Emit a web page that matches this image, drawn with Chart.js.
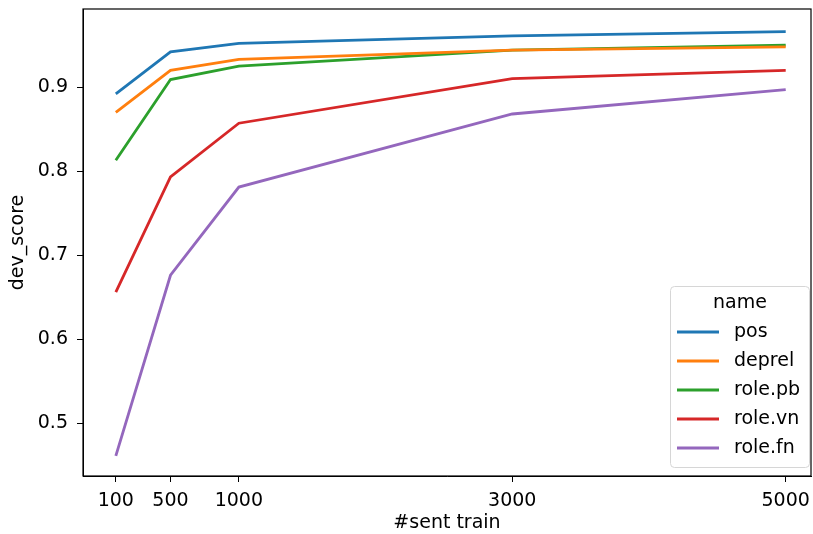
<!DOCTYPE html>
<html>
<head>
<meta charset="utf-8">
<script src="https://cdn.jsdelivr.net/npm/chart.js@4"></script>
<style>
  html, body { margin: 0; padding: 0; background: #fff; }
  #wrap { width: 813px; height: 534px; }
</style>
</head>
<body>
<div id="wrap"><canvas id="devChart" width="813" height="534"></canvas></div>
<script>
// Data
const sentTrain = [100, 500, 1000, 3000, 5000];
const xTicks = [100, 500, 1000, 3000, 5000];
const yTicks = [0.5, 0.6, 0.7, 0.8, 0.9];
const names = ['pos', 'deprel', 'role.pb', 'role.vn', 'role.fn'];
const posScores = [0.892, 0.942, 0.952, 0.961, 0.966];
const deprelScores = [0.870, 0.920, 0.933, 0.944, 0.948];
const rolePbScores = [0.813, 0.909, 0.925, 0.944, 0.950];
const roleVnScores = [0.656, 0.793, 0.857, 0.910, 0.920];
const roleFnScores = [0.461, 0.676, 0.781, 0.868, 0.897];
const colors = ['#1f77b4', '#ff7f0e', '#2ca02c', '#d62728', '#9467bd'];

const allScores = [posScores, deprelScores, rolePbScores, roleVnScores, roleFnScores];
const font = 'DejaVu Sans';
const fsize = 19;

const datasets = names.map((n, i) => ({
    label: n,
    data: sentTrain.map((x, j) => ({ x: x, y: allScores[i][j] })),
    borderColor: colors[i],
    backgroundColor: colors[i],
    borderWidth: 2.8,
    pointRadius: 0,
    tension: 0,
    fill: false
}));

// full box round the plot area
const frame = {
    id: 'frame',
    afterDatasetsDraw(chart) {
        const { ctx, chartArea: a } = chart;
        ctx.save();
        ctx.strokeStyle = '#000';
        ctx.lineWidth = 1.2;
        ctx.strokeRect(a.left, a.top, a.right - a.left, a.bottom - a.top);
        ctx.restore();
    }
};

// matplotlib-like legend box, lower right inside the plot
const boxLegend = {
    id: 'boxLegend',
    afterDraw(chart) {
        const ctx = chart.ctx;
        const x0 = 670, y0 = 286, w = 139, h = 181;
        ctx.save();
        ctx.beginPath();
        ctx.roundRect(x0 + 0.5, y0 + 0.5, w, h, 4);
        ctx.fillStyle = 'rgba(255,255,255,0.85)';
        ctx.fill();
        ctx.strokeStyle = '#d6d6d6';
        ctx.lineWidth = 1;
        ctx.stroke();
        ctx.font = fsize + 'px "' + font + '"';
        ctx.fillStyle = '#000';
        ctx.textBaseline = 'middle';
        ctx.textAlign = 'center';
        ctx.fillText('name', 740, 303);
        ctx.textAlign = 'left';
        chart.data.datasets.forEach((ds, i) => {
            const y = 332 + i * 29;
            ctx.strokeStyle = ds.borderColor;
            ctx.lineWidth = 2.8;
            ctx.beginPath();
            ctx.moveTo(677, y);
            ctx.lineTo(719, y);
            ctx.stroke();
            ctx.fillText(ds.label, 734, y);
        });
        ctx.restore();
    }
};

const config = {
    type: 'line',
    data: { datasets: datasets },
    options: {
        responsive: false,
        animation: false,
        layout: { padding: { left: 0, right: 2, top: 9, bottom: 0 } },
        plugins: {
            legend: { display: false },
            tooltip: { enabled: false }
        },
        scales: {
            x: {
                type: 'linear',
                min: -140,
                max: 5185,
                afterBuildTicks(scale) { scale.ticks = xTicks.map(v => ({ value: v })); },
                afterFit(scale) {
                    scale.height = 58;
                    scale.paddingLeft = 0;
                    scale.paddingRight = 0;
                },
                ticks: {
                    color: '#000',
                    font: { family: font, size: fsize },
                    padding: 8,
                    maxRotation: 0,
                    callback: v => String(v)
                },
                grid: { display: true, drawOnChartArea: false, drawTicks: true, tickLength: 6, color: '#000', lineWidth: 1 },
                border: { display: true, color: '#000' },
                title: { display: true, text: '#sent train', color: '#000', font: { family: font, size: fsize }, padding: { top: 0, bottom: 0 } }
            },
            y: {
                type: 'linear',
                min: 0.437,
                max: 0.993,
                afterBuildTicks(scale) { scale.ticks = yTicks.map(v => ({ value: v })); },
                afterFit(scale) {
                    scale.width = 83;
                    scale.paddingTop = 0;
                    scale.paddingBottom = 0;
                },
                ticks: {
                    color: '#000',
                    font: { family: font, size: fsize },
                    padding: 9,
                    callback: v => v.toFixed(1)
                },
                grid: { display: true, drawOnChartArea: false, drawTicks: true, tickLength: 6, color: '#000', lineWidth: 1 },
                border: { display: true, color: '#000' },
                title: { display: true, text: 'dev_score', color: '#000', font: { family: font, size: fsize }, padding: { top: 7, bottom: 0 } }
            }
        }
    },
    plugins: [frame, boxLegend]
};

window.onload = function() {
    const ctx = document.getElementById('devChart').getContext('2d');
    new Chart(ctx, config);
};
</script>
</body>
</html>
